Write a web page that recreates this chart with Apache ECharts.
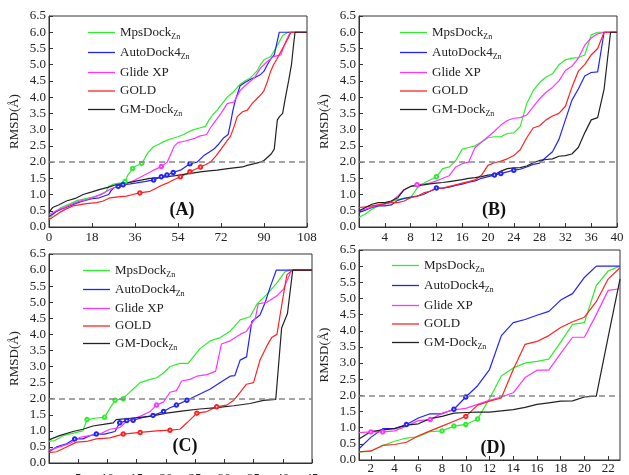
<!DOCTYPE html>
<html>
<head>
<meta charset="utf-8">
<script src="https://cdn.jsdelivr.net/npm/echarts@6/dist/echarts.min.js"></script>
<style>
    html, body { margin: 0; padding: 0; background: #fff; }
    #chart { width: 629px; height: 475px; }
</style>
</head>
<body>
<div id="chart"></div>
<script>
// series names / colours
const names = ['MpsDock', 'AutoDock4', 'Glide XP', 'GOLD', 'GM-Dock'];
const colors = ['#2cee2c', '#2222ff', '#ff33ff', '#ff2222', '#222222'];
const subZn = ['MpsDock', 'AutoDock4', 'GM-Dock'];
const panelLabels = ['(A)', '(B)', '(C)', '(D)'];

// (A) [x, RMSD] break points
const mpsA = [[0,0.28],[2,0.4],[5,0.6],[9,0.72],[12,0.82],[16,0.88],[19,0.94],[22,1.0],[24,1.1],[25,1.25],[27.5,1.33],[30,1.36],[31.8,1.4],[33,1.6],[35,1.8],[36.5,1.88],[38.8,1.96],[40,2.1],[41.5,2.3],[43.8,2.48],[46,2.55],[48,2.63],[51,2.72],[54,2.78],[56.4,2.85],[58,2.92],[60.6,3.0],[63,3.05],[65.5,3.1],[67,3.3],[68.5,3.45],[70.4,3.6],[72.5,3.8],[74.6,4.0],[77,4.15],[80,4.4],[82,4.5],[84.4,4.6],[87,4.8],[88.5,5.0],[90,5.15],[92.8,5.25],[94,5.4],[95.6,5.6],[97.8,5.9],[100,6.0],[108,6.0]];
const autoA = [[0,0.32],[3,0.48],[7,0.6],[11,0.72],[14.3,0.8],[18,0.87],[21,0.9],[25,1.0],[26,1.12],[27,1.2],[29,1.25],[31,1.3],[34,1.33],[36.7,1.36],[40,1.4],[43.8,1.45],[47,1.55],[49.4,1.6],[52,1.68],[55,1.75],[57,1.85],[59,1.95],[62,2.0],[64.8,2.2],[67,2.3],[69,2.4],[71,2.55],[73.2,2.75],[75,2.85],[76,3.2],[77,3.6],[78,3.9],[80,4.35],[82,4.45],[84.4,4.55],[86,4.6],[88.6,4.7],[90,4.8],[91.4,5.0],[93,5.2],[94.3,5.3],[95.5,5.7],[96.4,6.0],[108,6.0]];
const glideA = [[0,0.38],[3,0.5],[7,0.62],[12,0.78],[16,0.85],[19,0.92],[23,1.05],[26,1.18],[30,1.28],[33,1.35],[36,1.45],[40,1.6],[43,1.72],[47,1.86],[49.5,2.0],[51,2.25],[52.5,2.5],[54,2.6],[57,2.65],[60.6,2.72],[63,2.8],[66,2.85],[67.5,3.05],[69,3.2],[72,3.5],[74.6,3.8],[77.4,3.85],[80,4.2],[82,4.35],[84.4,4.5],[86,4.6],[88.6,4.9],[91.4,5.1],[94,5.25],[97,5.3],[99,5.7],[101,6.0],[108,6.0]];
const goldA = [[0,0.22],[2,0.32],[4.5,0.45],[7,0.55],[10,0.65],[15.7,0.72],[20,0.75],[22.7,0.8],[25.5,0.9],[29,0.93],[32.5,0.95],[35,1.0],[38,1.05],[42.3,1.1],[45,1.2],[47,1.28],[49.4,1.35],[52,1.45],[55,1.55],[57,1.62],[59,1.7],[61,1.77],[63.4,1.85],[65.5,1.92],[67.6,2.0],[70,2.2],[72,2.4],[74,2.6],[76,2.8],[77.5,3.1],[78.8,3.4],[81,3.55],[83,3.6],[85,3.8],[87,3.95],[89,4.1],[90,4.2],[91.5,4.5],[92.8,4.8],[94,5.0],[95.6,5.2],[97,5.4],[98.5,5.6],[100,5.8],[101.3,6.0],[108,6.0]];
const gmA = [[0,0.45],[1.5,0.6],[4,0.68],[7.3,0.8],[11,0.88],[14.3,1.0],[18,1.08],[21,1.15],[25,1.23],[28,1.3],[32,1.35],[35.3,1.4],[39,1.45],[42.3,1.5],[46,1.52],[49.4,1.55],[53,1.58],[56.4,1.62],[60,1.66],[63.4,1.7],[67,1.73],[70.4,1.75],[74,1.79],[77.4,1.82],[81,1.85],[83,1.9],[86,1.95],[88.6,2.0],[90,2.05],[91.5,2.15],[93,2.25],[94.3,2.4],[95,2.9],[95.6,3.3],[96.5,3.4],[97.8,3.5],[99,4.0],[100.3,4.5],[101.5,5.0],[102.5,5.7],[103,6.0],[108,6.0]];

// (B) RMSD at x = 0..40
const mpsB = [0.3,0.4,0.55,0.65,0.7,0.78,0.85,0.88,0.9,1.2,1.35,1.45,1.55,1.8,1.85,2.05,2.4,2.45,2.5,2.62,2.75,2.78,2.78,2.88,2.9,3.1,3.8,4.2,4.45,4.62,4.72,5.0,5.15,5.2,5.22,5.3,5.92,6,6,6,6];
const autoB = [0.45,0.52,0.6,0.65,0.65,0.68,0.82,0.88,0.92,0.95,1.0,1.1,1.2,1.2,1.23,1.28,1.32,1.38,1.42,1.5,1.55,1.6,1.65,1.7,1.75,1.78,1.85,1.93,1.97,2.15,2.32,2.7,3.3,3.9,4.25,4.65,4.76,4.78,6,6,6];
const glideB = [0.5,0.55,0.62,0.68,0.7,0.78,0.95,1.15,1.25,1.3,1.32,1.35,1.42,1.5,1.58,1.85,1.95,2.0,2.45,2.62,2.78,2.95,3.14,3.28,3.35,3.37,3.45,3.7,3.95,4.15,4.3,4.5,4.82,4.95,5.2,5.6,5.82,5.95,6,6,6];
const goldB = [0.6,0.62,0.65,0.68,0.72,0.75,0.75,0.8,0.9,0.95,1.05,1.1,1.18,1.2,1.25,1.3,1.35,1.4,1.45,1.6,1.9,1.98,2.03,2.1,2.2,2.38,2.75,3.05,3.12,3.3,3.42,3.5,3.72,4.3,4.8,5.0,5.3,5.5,6,6,6];
const gmB = [0.5,0.6,0.7,0.75,0.75,0.8,0.9,1.15,1.25,1.28,1.3,1.33,1.35,1.37,1.4,1.43,1.46,1.5,1.52,1.55,1.6,1.62,1.72,1.8,1.82,1.83,1.88,1.98,2.05,2.08,2.1,2.18,2.2,2.25,2.45,2.9,3.3,3.37,4.25,6,6];

// (C) [x, RMSD] break points
const mpsC = [[0,0.67],[1,0.7],[2.4,0.85],[4.7,0.95],[5.8,1.0],[6.5,1.35],[8.1,1.4],[9.5,1.42],[10.4,1.7],[11.3,1.95],[12.7,2.0],[13.5,2.15],[14.4,2.3],[15.6,2.5],[17.3,2.6],[18.4,2.65],[19.6,2.8],[20.7,3.0],[22.4,3.1],[23.8,3.1],[25.8,3.55],[27.6,3.8],[29.3,3.9],[31,4.1],[32.7,4.45],[34.4,4.55],[35.6,4.95],[37.3,5.25],[39,5.6],[40.4,5.95],[41.3,6.0],[45,6.0]];
const autoC = [[0,0.35],[1.3,0.5],[3,0.6],[4.4,0.75],[5.8,0.75],[7,0.85],[8.1,0.9],[9.5,0.9],[11.3,0.98],[12.1,1.25],[13.3,1.32],[14.4,1.33],[16.1,1.42],[17.8,1.48],[19.6,1.6],[20.7,1.72],[21.8,1.8],[23.6,1.95],[25.3,2.1],[27.6,2.3],[29.3,2.5],[31,2.7],[31.8,2.72],[32.7,3.2],[33.8,3.3],[34.7,4.4],[36.1,4.6],[37,5.0],[37.9,5.5],[38.9,6.0],[45,6.0]];
const glideC = [[0,0.4],[1.8,0.5],[3.5,0.6],[5.3,0.8],[7,0.85],[8.7,0.9],[10.4,1.05],[12.1,1.1],[13.3,1.3],[15.6,1.45],[17.3,1.6],[18.4,1.8],[19.6,1.9],[20.7,2.2],[21.8,2.25],[22.7,2.55],[24.1,2.6],[25.3,2.7],[27,2.75],[28.5,2.85],[29.5,3.7],[31,3.8],[32.7,4.0],[33.8,4.1],[35.3,4.5],[35.8,4.95],[37.3,5.0],[39,5.2],[40.1,5.4],[41.5,6.0],[45,6.0]];
const goldC = [[0,0.32],[1.3,0.35],[3,0.5],[4.7,0.65],[6.4,0.67],[8.1,0.75],[10.4,0.78],[12.7,0.9],[15.6,0.95],[18.4,1.0],[20.7,1.02],[22.4,1.05],[23.6,1.25],[25.3,1.55],[27,1.6],[28.7,1.75],[30.4,1.8],[31.6,1.95],[32.7,2.2],[33.8,2.45],[35,2.5],[36.1,3.2],[37.3,3.65],[38.1,3.9],[39,4.0],[39.9,5.0],[40.7,5.85],[41.6,6.0],[45,6.0]];
const gmC = [[0,0.72],[1.8,0.85],[4.1,0.98],[5.8,1.05],[7.5,1.15],[9.3,1.2],[11,1.25],[11.5,1.35],[14.4,1.4],[17.3,1.45],[20.1,1.55],[23,1.62],[25.8,1.68],[28.7,1.72],[31.6,1.78],[34.4,1.85],[36.7,1.95],[38.8,1.98],[39.8,4.2],[40.8,4.65],[41.7,6.0],[45,6.0]];

// (D) RMSD at x = 1..23
const mpsD = [0.25,0.27,0.45,0.58,0.68,0.72,0.88,0.9,1.05,1.1,1.27,1.9,2.6,2.85,3.0,3.05,3.12,3.65,4.2,4.25,5.4,5.85,6.0];
const autoD = [0.35,0.7,0.97,0.97,1.1,1.3,1.43,1.43,1.57,1.95,2.3,2.8,3.85,4.25,4.35,4.48,4.6,4.95,5.15,5.65,6.0,6.0,6.0];
const glideD = [0.85,0.87,0.87,0.9,1.05,1.22,1.25,1.45,1.55,1.6,1.72,1.85,1.95,2.08,2.55,2.78,2.78,3.3,3.8,3.8,4.5,5.25,5.3];
const goldD = [0.25,0.28,0.45,0.48,0.55,0.75,0.9,1.05,1.2,1.35,1.7,1.82,1.92,2.8,3.58,3.67,3.85,4.1,4.28,4.42,4.9,5.6,5.95];
const gmD = [0.65,0.88,0.93,0.97,1.08,1.12,1.28,1.35,1.45,1.47,1.48,1.48,1.52,1.56,1.63,1.72,1.77,1.82,1.83,1.95,1.98,3.8,5.6];

// x values that carry a small open circle (order: Mps, Auto, Glide, GOLD, GM)
const ringsA = [[31.8, 35, 38.8], [29, 31, 43.8, 47, 49.4, 52, 59], [47], [38, 55, 59, 63.4], []];
const ringsB = [[12], [12, 21, 22, 24], [9], [], []];
const ringsC = [[6.5, 9.5, 11.3, 12.7], [4.4, 8.1, 12.1, 13.3, 14.4, 17.8, 19.6, 21.8, 23.6], [18.4], [12.7, 15.6, 20.7, 25.3, 28.7], []];
const ringsD = [[8, 9, 10, 11], [5, 9, 10], [2, 3, 7], [10], []];

// x axis ranges / tick labels
const xMax = [108, 40, 45, 23];
const xMin = [0, 0, 0, 1];
const xTicksA = [0, 18, 36, 54, 72, 90, 108];
const xTicksB = [4, 8, 12, 16, 20, 24, 28, 32, 36, 40];
const xTicksC = [5, 10, 15, 20, 25, 30, 35, 40, 45];
const xTicksD = [2, 4, 6, 8, 10, 12, 14, 16, 18, 20, 22];
const cutoff = 2.0;

const toPairs = (arr, start) => arr.map((v, i) => [i + start, v]);
const panelData = [
    [mpsA, autoA, glideA, goldA, gmA],
    [mpsB, autoB, glideB, goldB, gmB].map(a => toPairs(a, 0)),
    [mpsC, autoC, glideC, goldC, gmC],
    [mpsD, autoD, glideD, goldD, gmD].map(a => toPairs(a, 1))
];
const panelRings = [ringsA, ringsB, ringsC, ringsD];
const xTicks = [xTicksA, xTicksB, xTicksC, xTicksD];

// layout
const grids = [
    { left: 49, top: 16, width: 258, height: 211 },
    { left: 359, top: 16, width: 258, height: 211 },
    { left: 49, top: 254, width: 263, height: 209 },
    { left: 359, top: 250, width: 261, height: 210 }
];
const legendPos = [[88, 26], [400, 26], [83, 264], [392, 259]];
const legendGap = [5.5, 5.5, 4.5, 5.5];
const labelMargin = [4, 4, 9, 2];
const labelPos = [[182, 210], [494, 210], [185, 446], [493, 448]];

const font = 'Liberation Serif';
const axisColor = '#333';
// thin horizontal bar used as legend sample line
const lineIcon = 'path://M0,0H54V2.6H0Z';

const chart = echarts.init(document.getElementById('chart'));

const option = {
    animation: false,
    textStyle: { fontFamily: font },
    grid: grids.map(g => Object.assign({ show: true, borderColor: axisColor, borderWidth: 1, containLabel: false, outerBoundsMode: 'none' }, g)),
    xAxis: grids.map((g, i) => ({
        type: 'value',
        gridIndex: i,
        min: xMin[i],
        max: xMax[i],
        interval: 1,
        splitLine: { show: false },
        axisLine: { lineStyle: { color: axisColor } },
        axisTick: { inside: true, length: 4, customValues: xTicks[i], lineStyle: { color: axisColor } },
        axisLabel: { customValues: xTicks[i], color: '#222', fontSize: 13, margin: labelMargin[i], fontFamily: font }
    })),
    yAxis: grids.map((g, i) => ({
        type: 'value',
        gridIndex: i,
        min: 0,
        max: 6.5,
        interval: 0.5,
        name: 'RMSD(Å)',
        nameLocation: 'middle',
        nameGap: 28,
        nameTextStyle: { fontSize: 13, color: '#222', fontFamily: font },
        splitLine: { show: false },
        axisLine: { show: true, lineStyle: { color: axisColor } },
        axisTick: { inside: true, length: 4, lineStyle: { color: axisColor } },
        axisLabel: { color: '#222', fontSize: 13, margin: 3, fontFamily: font, formatter: v => v.toFixed(1) }
    })),
    legend: grids.map((g, i) => ({
        left: legendPos[i][0],
        top: legendPos[i][1],
        padding: 0,
        orient: 'vertical',
        icon: lineIcon,
        symbolKeepAspect: true,
        itemWidth: 27,
        itemHeight: 12,
        itemGap: legendGap[i],
        data: names,
        formatter: n => subZn.includes(n) ? n + '{s|Zn}' : n,
        textStyle: {
            fontSize: 13, color: '#222', fontFamily: font,
            rich: { s: { fontSize: 8, color: '#222', fontFamily: font, padding: [8, 0, 0, 0] } }
        }
    })),
    series: [],
    graphic: labelPos.map((p, i) => ({
        type: 'text',
        x: p[0],
        y: p[1],
        style: {
            text: panelLabels[i],
            font: 'bold 18px "' + font + '"',
            fill: '#111',
            align: 'center',
            verticalAlign: 'middle'
        }
    }))
};

panelData.forEach((set, p) => {
    set.forEach((d, k) => {
        const rings = panelRings[p][k];
        const s = {
            name: names[k],
            type: 'line',
            xAxisIndex: p,
            yAxisIndex: p,
            data: d,
            showSymbol: true,
            showAllSymbol: true,
            symbol: v => rings.includes(v[0]) ? 'emptyCircle' : 'none',
            symbolSize: 3.5,
            itemStyle: { color: colors[k], borderWidth: 0.8 },
            color: colors[k],
            lineStyle: { width: 1.2, color: colors[k] }
        };
        if (k === 0) {
            s.markLine = {
                silent: true,
                symbol: 'none',
                label: { show: false },
                lineStyle: { color: '#888', type: [6, 4], width: 1.5 },
                data: [{ yAxis: cutoff }]
            };
        }
        option.series.push(s);
    });
});

chart.setOption(option);
</script>
</body>
</html>
